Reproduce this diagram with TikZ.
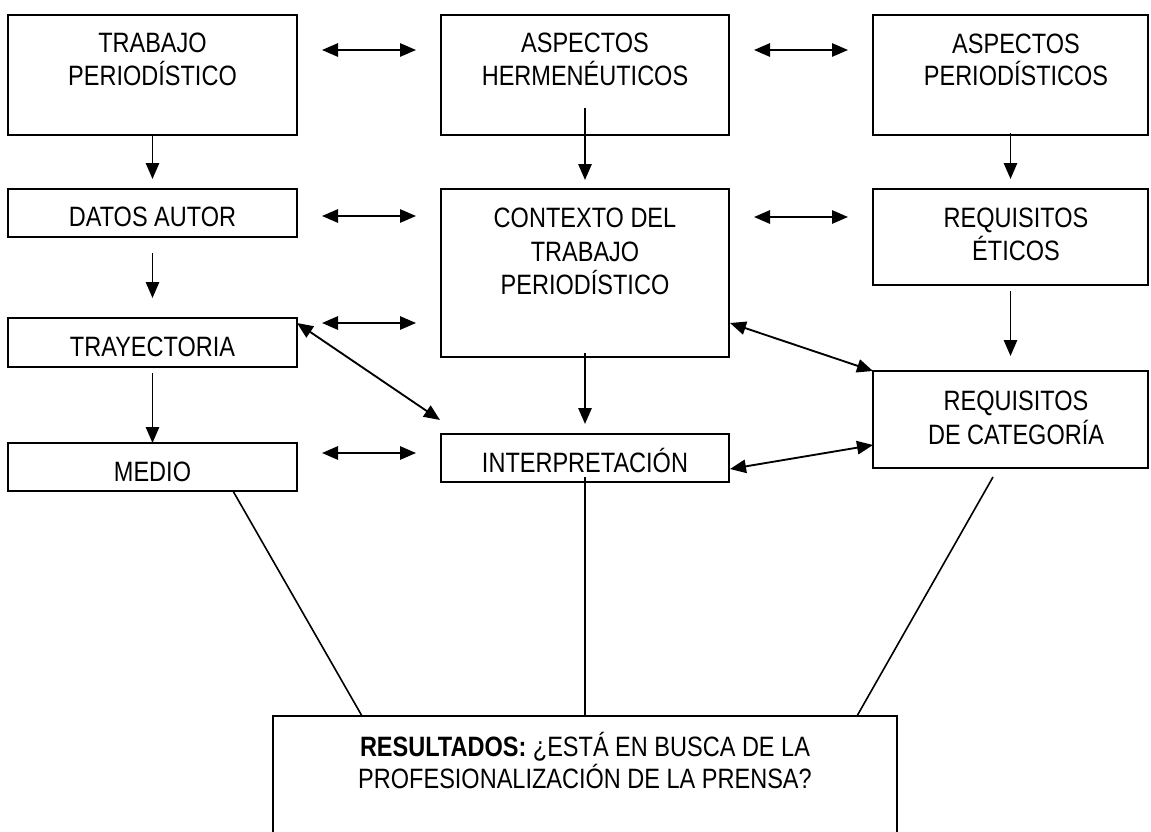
\documentclass[tikz,border=0pt]{standalone}
\usepackage{fontspec}
\setmainfont[FakeStretch=0.84]{Liberation Sans}
\usetikzlibrary{arrows.meta,fit}
\begin{document}
\begin{tikzpicture}[x=0.75pt,y=-0.75pt,
  box/.style={draw, line width=1.4pt, inner sep=0pt, outer sep=0pt},
  txt/.style={anchor=base, inner sep=0pt, font=\fontsize{21}{25}\selectfont},
  arr/.style={line width=1.4pt, -{Triangle[length=12pt,width=10pt]}},
  dbl/.style={line width=1.4pt, {Triangle[length=12pt,width=10pt]}-{Triangle[length=12pt,width=10pt]}},
  ln/.style={line width=1.2pt}]
\useasboundingbox (0,0) rectangle (1151,831);
% boxes
\node[box, fit={(8,15) (297,135)}] (trab) {};
\node[box, fit={(441,15) (729,135)}] (aspH) {};
\node[box, fit={(873,15) (1148,135)}] (aspP) {};
\node[box, fit={(8,189) (297,237)}] (datos) {};
\node[box, fit={(441,189) (729,357)}] (ctx) {};
\node[box, fit={(873,189) (1148,285)}] (etic) {};
\node[box, fit={(8,318) (297,367)}] (tray) {};
\node[box, fit={(873,371) (1148,468)}] (cat) {};
\node[box, fit={(8,443) (297,491)}] (medio) {};
\node[box, fit={(441,434) (729,482)}] (interp) {};
\node[box, fit={(273,716) (897,836)}] (res) {};
% texts
\node[txt] (t1) at (152.5,53) {TRABAJO};
\node[txt] (t2) at (152.5,86) {PERIODÍSTICO};
\node[txt] (t3) at (585,53) {ASPECTOS};
\node[txt] (t4) at (585,86) {HERMENÉUTICOS};
\node[txt] (t5) at (1016,54) {ASPECTOS};
\node[txt] (t6) at (1016,86) {PERIODÍSTICOS};
\node[txt] (t7) at (152.5,226) {DATOS AUTOR};
\node[txt] (t8) at (585,227) {CONTEXTO DEL};
\node[txt] (t9) at (585,261) {TRABAJO};
\node[txt] (t10) at (585,294) {PERIODÍSTICO};
\node[txt] (t11) at (1016,227) {REQUISITOS};
\node[txt] (t12) at (1016,260) {ÉTICOS};
\node[txt] (t13) at (152.5,356) {TRAYECTORIA};
\node[txt] (t14) at (152.5,481) {MEDIO};
\node[txt] (t15) at (585,472) {INTERPRETACIÓN};
\node[txt] (t16) at (1016,410) {REQUISITOS};
\node[txt] (t17) at (1016,444) {DE CATEGORÍA};
\node[txt] (t18) at (585,756) {\textbf{RESULTADOS:} ¿ESTÁ EN BUSCA DE LA};
\node[txt] (t19) at (585,788) {PROFESIONALIZACIÓN DE LA PRENSA?};
% vertical arrows
\draw[arr, shorten >=7.5pt] (trab.south) -- (datos.north);
\draw[arr, shorten <=-20.25pt, shorten >=6.75pt] (aspH.south) -- (ctx.north);
\draw[arr, shorten <=-1.5pt, shorten >=7.5pt] (aspP.south) -- (etic.north);
\draw[arr, shorten <=12pt, shorten >=15pt] (datos.south) -- (tray.north);
\draw[arr, shorten <=4.5pt, shorten >=11.25pt] (etic.south) -- (cat.north);
\draw[arr, shorten <=4.5pt] (tray.south) -- (medio.north);
\draw[arr, shorten <=-3pt, shorten >=7.5pt] (ctx.south) -- (interp.north);
% horizontal double arrows
\coordinate (h1a) at (322,50);  \coordinate (h1b) at (416,50);
\coordinate (h2a) at (754,50);  \coordinate (h2b) at (848,50);
\coordinate (h3a) at (322,216); \coordinate (h3b) at (416,216);
\coordinate (h4a) at (754,217); \coordinate (h4b) at (848,217);
\coordinate (h5a) at (322,323); \coordinate (h5b) at (416,323);
\coordinate (h6a) at (322,453); \coordinate (h6b) at (416,453);
\draw[dbl] (h1a) -- (h1b);
\draw[dbl] (h2a) -- (h2b);
\draw[dbl] (h3a) -- (h3b);
\draw[dbl] (h4a) -- (h4b);
\draw[dbl] (h5a) -- (h5b);
\draw[dbl] (h6a) -- (h6b);
% diagonal double arrows
\draw[dbl] ([shift={(0,5)}]tray.north east) -- ([shift={(-1,-14)}]interp.north west);
\draw[dbl] ([shift={(1,-34)}]ctx.south east) -- (cat.north west);
\draw[dbl] ([shift={(1,-13)}]interp.south east) -- ([shift={(0,-23)}]cat.south west);
% lines to results
\draw[ln] ([shift={(80.5,0)}]medio.south) -- ([shift={(89,0)}]res.north west);
\draw[ln] ([shift={(0,-5)}]interp.south) -- (res.north);
\draw[ln] ([shift={(-17.5,9)}]cat.south) -- ([shift={(-40,0)}]res.north east);
\end{tikzpicture}
\end{document}
